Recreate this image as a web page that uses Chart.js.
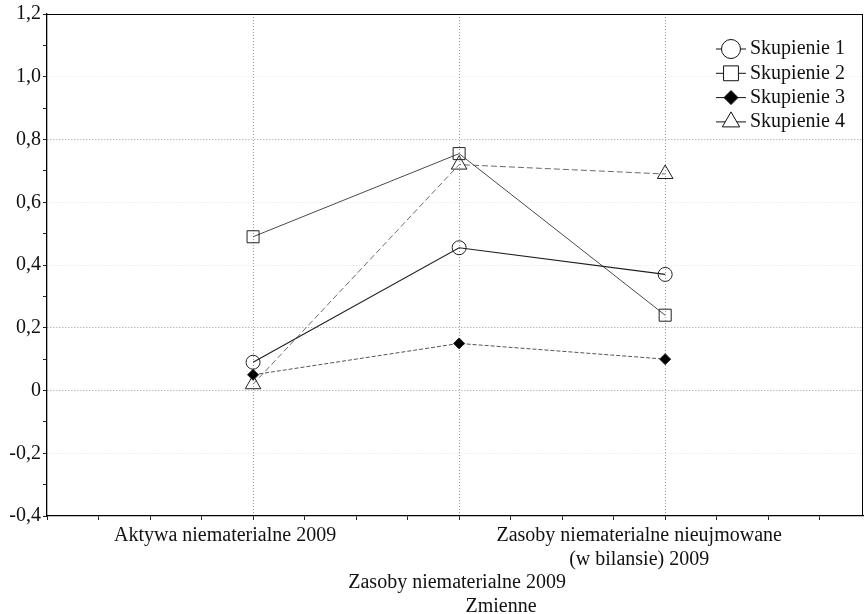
<!DOCTYPE html>
<html>
<head>
<meta charset="utf-8">
<script src="https://cdn.jsdelivr.net/npm/chart.js@4/dist/chart.umd.min.js"></script>
<style>
  html, body { margin: 0; padding: 0; background: #fff; overflow: hidden; }
  #wrap { width: 865px; height: 614px; }
</style>
</head>
<body>
<div id="wrap"><canvas id="c" width="865" height="614"></canvas></div>
<script>
// Variables (x axis categories), one entry per category, split into text lines
const categories = [
  ['Aktywa niematerialne 2009'],
  ['Zasoby niematerialne 2009'],
  ['Zasoby niematerialne nieujmowane', '(w bilansie) 2009']
];
const xAxisTitle = 'Zmienne';

// Cluster means per variable
const seriesNames = ['Skupienie 1', 'Skupienie 2', 'Skupienie 3', 'Skupienie 4'];
const skupienie1 = [0.09, 0.455, 0.37];
const skupienie2 = [0.49, 0.755, 0.24];
const skupienie3 = [0.05, 0.15, 0.10];
const skupienie4 = [0.02, 0.72, 0.69];

// Y axis tick labels (decimal comma)
const yTickValues = [-0.4, -0.2, 0, 0.2, 0.4, 0.6, 0.8, 1.0, 1.2];
const yTickLabels = ['-0,4', '-0,2', '0', '0,2', '0,4', '0,6', '0,8', '1,0', '1,2'];

// ---- rendering ----
const FONT = "'Liberation Serif', 'Times New Roman', serif";
// category label layout: text row and horizontal nudge relative to the tick
const labelRow = [0, 2, 0];
const labelNudge = [-28, -2, -26];
const titleNudge = 46;
const LINE_H = 23.5;

function toPoints(values) {
  return values.map((v, i) => ({ x: i + 1, y: v }));
}

const styles = [
  { pointStyle: 'circle',   radius: 7,   fill: 'rgba(0,0,0,0)', line: '#1e1e1e', dash: [],     width: 1.1 },
  { pointStyle: 'rect',     radius: 8.5, fill: 'rgba(0,0,0,0)', line: '#4a4a4a', dash: [],     width: 1 },
  { pointStyle: 'rectRot',  radius: 5.5, fill: '#000',          line: '#555',    dash: [4, 2], width: 1 },
  { pointStyle: 'triangle', radius: 9,   fill: 'rgba(0,0,0,0)', line: '#6a6a6a', dash: [6, 3], width: 1 }
];
const legendRadius = [9.5, 10.5, 7, 10];
const seriesValues = [skupienie1, skupienie2, skupienie3, skupienie4];

const datasets = seriesValues.map((vals, i) => ({
  label: seriesNames[i],
  data: toPoints(vals),
  borderColor: styles[i].line,
  borderWidth: styles[i].width,
  borderDash: styles[i].dash,
  pointStyle: styles[i].pointStyle,
  pointRadius: styles[i].radius,
  pointHoverRadius: styles[i].radius,
  pointBackgroundColor: styles[i].fill,
  pointBorderColor: '#222',
  pointBorderWidth: 1,
  tension: 0,
  fill: false
}));

function isMajorY(v) {
  return Math.abs(Math.round(v * 10)) % 2 === 0;
}

// Frame around the plot, category labels and axis title under the x axis, in-plot legend
const framePlugin = {
  id: 'frameAndLegend',
  afterDraw(chart) {
    const { ctx, chartArea: a } = chart;
    const xs = chart.scales.x;
    ctx.save();
    ctx.setLineDash([]);
    ctx.strokeStyle = '#000';
    ctx.lineWidth = 1;
    ctx.beginPath();
    ctx.moveTo(a.left, a.top + 0.5);
    ctx.lineTo(a.right, a.top + 0.5);
    ctx.moveTo(a.right - 0.5, a.top);
    ctx.lineTo(a.right - 0.5, a.bottom);
    ctx.stroke();
    ctx.restore();

    // category labels and axis title
    ctx.save();
    ctx.fillStyle = '#111';
    ctx.font = '20px ' + FONT;
    ctx.textAlign = 'center';
    ctx.textBaseline = 'middle';
    categories.forEach((lines, i) => {
      const cx = xs.getPixelForValue(i + 1) + labelNudge[i];
      lines.forEach((txt, j) => {
        ctx.fillText(txt, cx, a.bottom + 20 + (labelRow[i] + j) * LINE_H);
      });
    });
    ctx.fillText(xAxisTitle, (a.left + a.right) / 2 + titleNudge, a.bottom + 91);
    ctx.restore();

    // legend
    const x0 = a.right - 147, x1 = a.right - 117, tx = a.right - 113;
    const y0 = a.top + 35, step = 24.3;
    chart.data.datasets.forEach((ds, i) => {
      const y = y0 + i * step;
      ctx.save();
      ctx.setLineDash([]);
      ctx.strokeStyle = '#111';
      ctx.lineWidth = 1;
      ctx.beginPath();
      ctx.moveTo(x0, y);
      ctx.lineTo(x1, y);
      ctx.stroke();
      ctx.fillStyle = i === 2 ? '#000' : '#fff';
      ctx.strokeStyle = '#111';
      Chart.helpers.drawPoint(ctx, { pointStyle: ds.pointStyle, radius: legendRadius[i], borderWidth: 1, rotation: 0 }, (x0 + x1) / 2, y);
      ctx.fillStyle = '#111';
      ctx.font = '20px ' + FONT;
      ctx.textBaseline = 'middle';
      ctx.textAlign = 'left';
      ctx.fillText(ds.label, tx, y);
      ctx.restore();
    });
  }
};

new Chart(document.getElementById('c'), {
  type: 'line',
  data: { datasets },
  plugins: [framePlugin],
  options: {
    responsive: false,
    animation: false,
    devicePixelRatio: 1,
    layout: { autoPadding: false, padding: { top: 14, right: 2, left: 0, bottom: 0 } },
    plugins: { legend: { display: false }, tooltip: { enabled: false } },
    scales: {
      x: {
        type: 'linear',
        min: 0,
        max: 3.96,
        afterBuildTicks(scale) {
          const t = [];
          for (let k = 0; k <= 15; k++) t.push({ value: k * 0.25 });
          scale.ticks = t;
        },
        afterFit(scale) { scale.height = 98; },
        ticks: {
          autoSkip: false,
          maxRotation: 0,
          minRotation: 0,
          padding: 0,
          font: { family: FONT, size: 20 },
          callback() { return ''; }
        },
        grid: {
          color: (c) => (c.tick && Math.abs(c.tick.value - Math.round(c.tick.value)) < 1e-6 && c.tick.value >= 1) ? '#9a9a9a' : 'rgba(0,0,0,0)',
          lineWidth: 1,
          tickLength: 4,
          tickColor: '#222',
          tickBorderDash: []
        },
        border: { display: true, color: '#000', width: 1.3, dash: [1, 2] }
      },
      y: {
        min: -0.4,
        max: 1.2,
        afterBuildTicks(scale) {
          const t = [];
          for (let k = -4; k <= 12; k++) t.push({ value: k / 10 });
          scale.ticks = t;
        },
        afterFit(scale) { scale.width = 47; },
        ticks: {
          autoSkip: false,
          padding: 2,
          color: '#111',
          font: { family: FONT, size: 20 },
          callback(v) {
            const idx = yTickValues.findIndex(t => Math.abs(t - v) < 1e-6);
            return idx >= 0 ? yTickLabels[idx] : '';
          }
        },
        grid: {
          color: (c) => {
            if (!c.tick) return 'rgba(0,0,0,0)';
            const v = Math.round(c.tick.value * 10);
            if (v === 8 || v === 2 || v === 0) return '#9a9a9a';
            if (isMajorY(c.tick.value) && v > -4 && v < 12) return '#e4e4e4';
            return 'rgba(0,0,0,0)';
          },
          lineWidth: 1,
          tickLength: 4,
          tickColor: '#222',
          tickBorderDash: []
        },
        border: { display: true, color: '#000', width: 1.3, dash: [1, 2] }
      }
    }
  }
});
</script>
</body>
</html>
